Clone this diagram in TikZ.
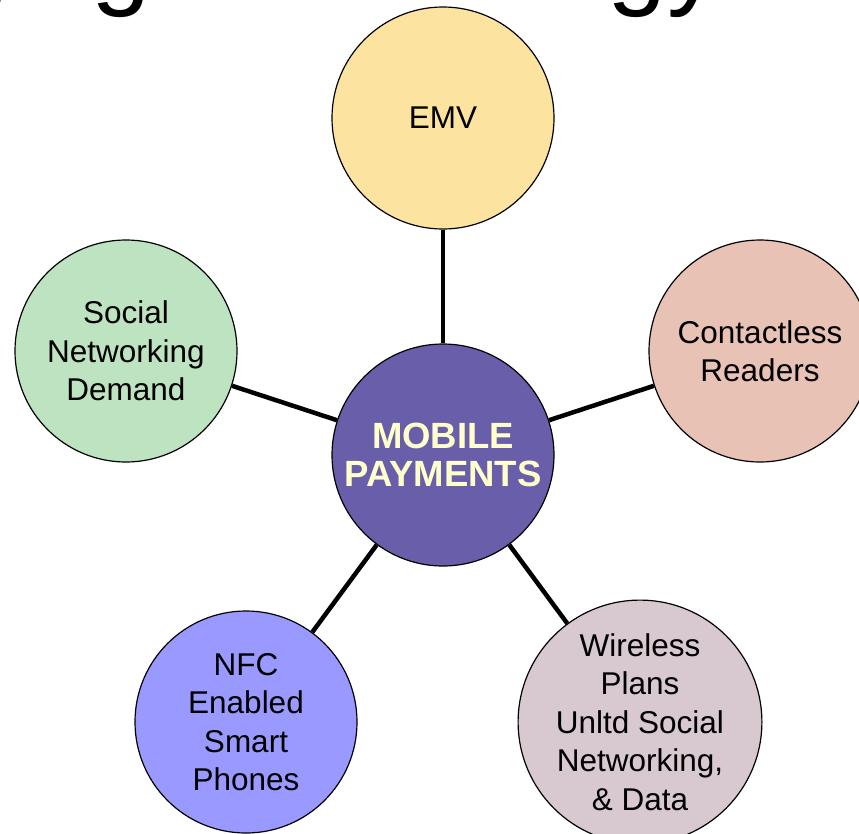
\documentclass[tikz,border=0pt]{standalone}
\usepackage{fontspec}
\setmainfont{Liberation Sans}
\usepackage{tikz}

\definecolor{emvcol}{RGB}{252,228,160}
\definecolor{readercol}{RGB}{232,194,180}
\definecolor{socialcol}{RGB}{190,227,192}
\definecolor{mobilecol}{RGB}{104,94,170}
\definecolor{mobiletext}{RGB}{255,255,204}
\definecolor{nfccol}{RGB}{153,153,255}
\definecolor{wirelesscol}{RGB}{216,200,208}

\begin{document}
\begin{tikzpicture}[x=1pt,y=-1pt,
	bubble/.style={circle,draw,line width=1.2pt,minimum size=222pt,inner sep=0pt,align=center,
		font=\fontsize{31.5}{38.5}\selectfont},
	spoke/.style={line width=4.5pt}]
\useasboundingbox (0,0) rectangle (859,833);
\begin{scope}
\clip (0,0) rectangle (859,833);
%title, mostly above the page
\node[anchor=base east,inner sep=0pt,font=\fontsize{106.7}{110}\selectfont] (title) at (721,-5) {Emerging Technology};

%the hub
\node[bubble,fill=mobilecol,text=mobiletext,font=\fontsize{36.5}{38}\selectfont\bfseries] (mp) at (443,455) {MOBILE\\PAYMENTS};

%put the five topics round it
\node[bubble,fill=emvcol] (emv) at (443,118) {EMV};
\node[bubble,fill=readercol] (rd) at (760,351) {Contactless\\Readers};
\node[bubble,fill=socialcol] (soc) at (126,351) {Social\\Networking\\Demand};
\node[bubble,fill=nfccol] (nfc) at (246,722) {NFC\\Enabled\\Smart\\Phones};
\node[bubble,fill=wirelesscol] (wl) at (640,722) {Wireless\\Plans\\Unltd Social\\Networking,\\\& Data};

\foreach \t in {emv,rd,soc,nfc,wl}{
	\draw[spoke] (mp) -- (\t);
}
\end{scope}
\end{tikzpicture}
\end{document}
